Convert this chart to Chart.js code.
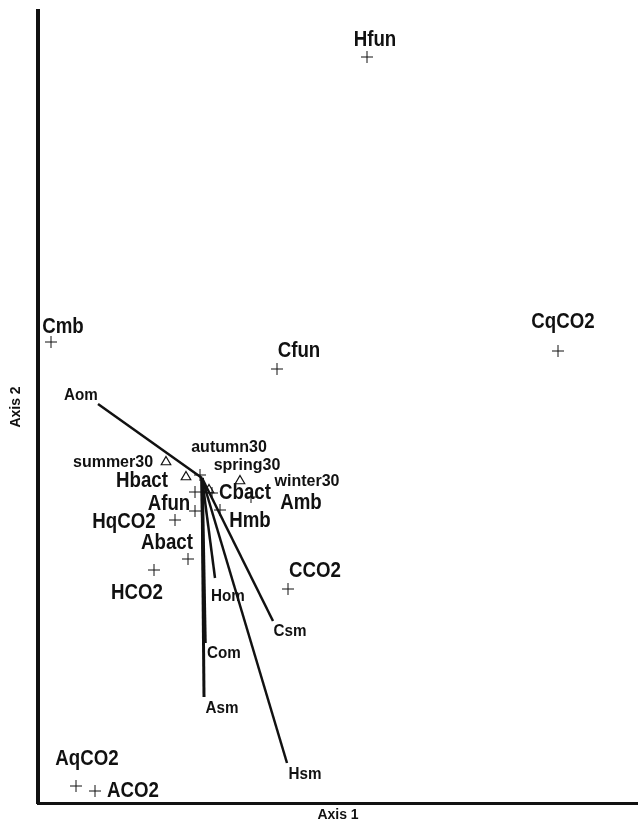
<!DOCTYPE html>
<html>
<head>
<meta charset="utf-8">
<title>Ordination biplot</title>
<script src="https://cdn.jsdelivr.net/npm/chart.js@4.4.1/dist/chart.umd.min.js"></script>
<style>
    body { margin: 0; background: #fff; }
    #chartBox { width: 638px; height: 828px; }
</style>
</head>
<body>
<div id="chartBox"><canvas id="chartArea"></canvas></div>
<script>
// species / variables (crosses)
var speciesNames = ['Hfun', 'CqCO2', 'Cfun', 'Cmb', '', 'Hbact', 'Afun', 'Cbact', 'Amb', 'Hmb', 'HqCO2', 'Abact', 'HCO2', 'CCO2', 'AqCO2', 'ACO2'];
var speciesX = [1.65, 3.56, 0.75, -1.51, -0.02, -0.07, -0.07, 0.10, 0.49, 0.18, -0.27, -0.14, -0.48, 0.86, -1.26, -1.07];
var speciesY = [4.21, 1.27, 1.09, 1.36, 0.03, -0.14, -0.33, -0.15, -0.19, -0.32, -0.42, -0.81, -0.92, -1.11, -3.08, -3.13];

// seasons (triangles)
var seasonNames = ['summer30', 'autumn30', 'spring30', 'winter30'];
var seasonX = [-0.36, -0.16, 0.07, 0.38];
var seasonY = [0.16, 0.01, -0.12, -0.03];

// environmental vectors from the origin
var vectorNames = ['Aom', 'Hom', 'Csm', 'Com', 'Asm', 'Hsm'];
var vectorX = [-1.04, 0.13, 0.71, 0.03, 0.02, 0.85];
var vectorY = [0.74, -1.00, -1.43, -1.65, -2.19, -2.85];

// label placement (pixels from the mark)
var speciesLabelDX = [8, 5, 22, 12, 0, -53, -26, 33, 50, 30, -51, -21, -17, 27, 11, 38];
var speciesLabelDY = [-19, -31, -20, -17, 0, -13, -9, -2, 4, 9, 0, -18, 21, -20, -29, -2];
var seasonLabelDX = [-53, 43, 38, 67];
var seasonLabelDY = [-1, -31, -26, -1];
var vectorLabelDX = [-17, 13, 17, 19, 18, 18];
var vectorLabelDY = [-10, 17, 9, 9, 10, 10];
var vectorWidths = [2.5, 2.5, 2.5, 3.5, 3, 2.5];

var ctx, myNewChart;

function toPoints(xs, ys) {
    var pts = [];
    for (var i = 0; i < xs.length; i++) {
        pts.push({ x: xs[i], y: ys[i] });
    }
    return pts;
}

var datasets = [];
for (var v = 0; v < vectorNames.length; v++) {
    datasets.push({
        label: vectorNames[v],
        data: [{ x: 0, y: 0 }, { x: vectorX[v], y: vectorY[v] }],
        showLine: true,
        borderColor: '#111',
        borderWidth: vectorWidths[v],
        pointRadius: 0,
        fill: false,
        clip: false
    });
}
datasets.push({
    label: 'species',
    data: toPoints(speciesX, speciesY),
    pointStyle: 'cross',
    pointRadius: 6,
    borderColor: '#111',
    borderWidth: 1,
    clip: false
});
datasets.push({
    label: 'seasons',
    data: toPoints(seasonX, seasonY),
    pointStyle: 'triangle',
    pointRadius: 5.5,
    borderColor: '#111',
    backgroundColor: 'rgba(0,0,0,0)',
    borderWidth: 1.2,
    clip: false
});

function drawLabel(c, text, x, y, size, sx) {
    if (!text) return;
    c.save();
    c.translate(x, y + size * 0.358);
    c.scale(sx, 1);
    c.font = 'bold ' + size + 'px "Liberation Sans", Arial, sans-serif';
    c.fillStyle = '#111';
    c.textAlign = 'center';
    c.textBaseline = 'alphabetic';
    c.fillText(text, 0, 0);
    c.restore();
}

var labelPlugin = {
    id: 'pointLabels',
    afterDatasetsDraw: function (chart) {
        var c = chart.ctx;
        var nv = vectorNames.length;
        for (var v = 0; v < nv; v++) {
            var end = chart.getDatasetMeta(v).data[1];
            drawLabel(c, vectorNames[v], end.x + vectorLabelDX[v], end.y + vectorLabelDY[v], 16, 0.95);
        }
        var sp = chart.getDatasetMeta(nv).data;
        for (var i = 0; i < sp.length; i++) {
            drawLabel(c, speciesNames[i], sp[i].x + speciesLabelDX[i], sp[i].y + speciesLabelDY[i], 22, 0.85);
        }
        var se = chart.getDatasetMeta(nv + 1).data;
        for (var j = 0; j < se.length; j++) {
            drawLabel(c, seasonNames[j], se[j].x + seasonLabelDX[j], se[j].y + seasonLabelDY[j], 16, 1);
        }
    }
};

var config = {
    type: 'scatter',
    data: { datasets: datasets },
    options: {
        responsive: true,
        maintainAspectRatio: false,
        animation: false,
        layout: { autoPadding: false, padding: { top: 11, left: 0, right: 0, bottom: 0 } },
        plugins: {
            legend: { display: false },
            tooltip: { enabled: false }
        },
        events: [],
        scales: {
            x: {
                type: 'linear',
                min: -1.64,
                max: 4.36,
                grid: { display: false },
                ticks: { display: false },
                border: { display: true, color: '#111', width: 3 },
                title: {
                    display: true,
                    text: 'Axis 1',
                    color: '#111',
                    font: { family: '"Liberation Sans", Arial, sans-serif', size: 14, weight: 'bold' },
                    padding: { top: 0, bottom: 4 }
                },
                afterFit: function (scale) { scale.height = 25; }
            },
            y: {
                type: 'linear',
                min: -3.25,
                max: 4.67,
                grid: { display: false },
                ticks: { display: false },
                border: { display: true, color: '#111', width: 4 },
                title: {
                    display: true,
                    text: 'Axis 2',
                    color: '#111',
                    font: { family: '"Liberation Sans", Arial, sans-serif', size: 14, weight: 'bold' },
                    padding: { top: 8, bottom: 0 }
                },
                afterFit: function (scale) { scale.width = 38; }
            }
        }
    },
    plugins: [labelPlugin]
};

ctx = document.getElementById('chartArea').getContext('2d');
myNewChart = new Chart(ctx, config);
</script>
</body>
</html>
